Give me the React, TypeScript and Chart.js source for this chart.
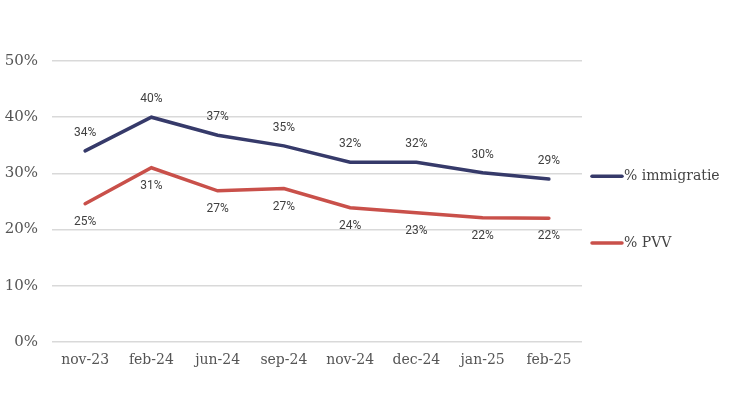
import React, { useEffect, useRef } from "react";
import { Chart, registerables } from "chart.js";

Chart.register(...registerables);

const categories = ["nov-23", "feb-24", "jun-24", "sep-24", "nov-24", "dec-24", "jan-25", "feb-25"];
const immigratie = [34, 40, 36.8, 34.9, 32, 32, 30.1, 29];
const pvv = [24.6, 31, 26.9, 27.3, 23.9, 23, 22.1, 22];
const immigratieLabels = ["34%", "40%", "37%", "35%", "32%", "32%", "30%", "29%"];
const pvvLabels = ["25%", "31%", "27%", "27%", "24%", "23%", "22%", "22%"];
const seriesNames = ["% immigratie", "% PVV"];
const yTicks = [0, 10, 20, 30, 40, 50];

const NAVY = "#363a6a";
const RED = "#c9504a";
const SERIF = "'DejaVu Serif', 'Liberation Serif', serif";

const labelPlugin = {
  id: "pointLabels",
  afterDatasetsDraw(chart: any) {
    const ctx = chart.ctx;
    ctx.save();
    ctx.font = "12px Roboto, 'Liberation Sans', sans-serif";
    ctx.fillStyle = "#404040";
    ctx.textAlign = "center";
    ctx.textBaseline = "middle";
    const sets = [
      { idx: 0, labels: immigratieLabels, dy: -18 },
      { idx: 1, labels: pvvLabels, dy: 18 },
    ];
    sets.forEach((s) => {
      const meta = chart.getDatasetMeta(s.idx);
      meta.data.forEach((pt: any, i: number) => {
        ctx.fillText(s.labels[i], pt.x, pt.y + s.dy);
      });
    });
    ctx.restore();
  },
};

const legendPlugin = {
  id: "sideLegend",
  afterDraw(chart: any) {
    const ctx = chart.ctx;
    const yScale = chart.scales.y;
    ctx.save();
    const items = [
      { name: seriesNames[0], color: NAVY, y: yScale.getPixelForValue(29.5) },
      { name: seriesNames[1], color: RED, y: yScale.getPixelForValue(17.6) },
    ];
    const x0 = chart.chartArea.right + 9;
    items.forEach((it) => {
      ctx.strokeStyle = it.color;
      ctx.lineWidth = 3.5;
      ctx.lineCap = "round";
      ctx.beginPath();
      ctx.moveTo(x0 + 1, it.y);
      ctx.lineTo(x0 + 31, it.y);
      ctx.stroke();
      ctx.fillStyle = "#444444";
      ctx.font = `14px ${SERIF}`;
      ctx.textAlign = "left";
      ctx.textBaseline = "middle";
      ctx.fillText(it.name, x0 + 33, it.y);
    });
    ctx.restore();
  },
};

export default function App() {
  const ref = useRef<HTMLCanvasElement>(null);
  useEffect(() => {
    if (!ref.current) return;
    const chart = new Chart(ref.current, {
      type: "line",
      data: {
        labels: categories,
        datasets: [
          {
            label: seriesNames[0],
            data: immigratie,
            borderColor: NAVY,
            backgroundColor: NAVY,
            borderWidth: 3.5,
            pointRadius: 0,
            tension: 0,
            borderCapStyle: "round",
          },
          {
            label: seriesNames[1],
            data: pvv,
            borderColor: RED,
            backgroundColor: RED,
            borderWidth: 3.5,
            pointRadius: 0,
            tension: 0,
            borderCapStyle: "round",
          },
        ],
      },
      options: {
        animation: false,
        responsive: false,
        maintainAspectRatio: false,
        layout: { padding: { top: 61, right: 148, bottom: 0, left: 0 } },
        plugins: {
          legend: { display: false },
          tooltip: { enabled: false },
        },
        scales: {
          x: {
            offset: true,
            grid: { display: false, drawTicks: false },
            border: { display: false },
            ticks: {
              color: "#555555",
              font: { family: SERIF, size: 14 },
              padding: 10,
              maxRotation: 0,
              autoSkip: false,
            },
            afterFit(scale: any) {
              scale.height = 68;
            },
          },
          y: {
            min: 0,
            max: 50,
            afterBuildTicks(scale: any) {
              scale.ticks = yTicks.map((v) => ({ value: v }));
            },
            grid: { color: "#d9d9d9", lineWidth: 1.5, drawTicks: false },
            border: { display: false },
            ticks: {
              color: "#555555",
              font: { family: SERIF, size: 15 },
              padding: 14,
              callback: (v: any) => `${v}%`,
            },
            afterFit(scale: any) {
              scale.width = 52;
            },
          },
        },
      },
      plugins: [labelPlugin, legendPlugin],
    });
    return () => chart.destroy();
  }, []);
  return (
    <div style={{ position: "absolute", left: 0, top: 0, width: 730, height: 410, background: "#fff" }}>
      <canvas ref={ref} width={730} height={410} />
    </div>
  );
}
